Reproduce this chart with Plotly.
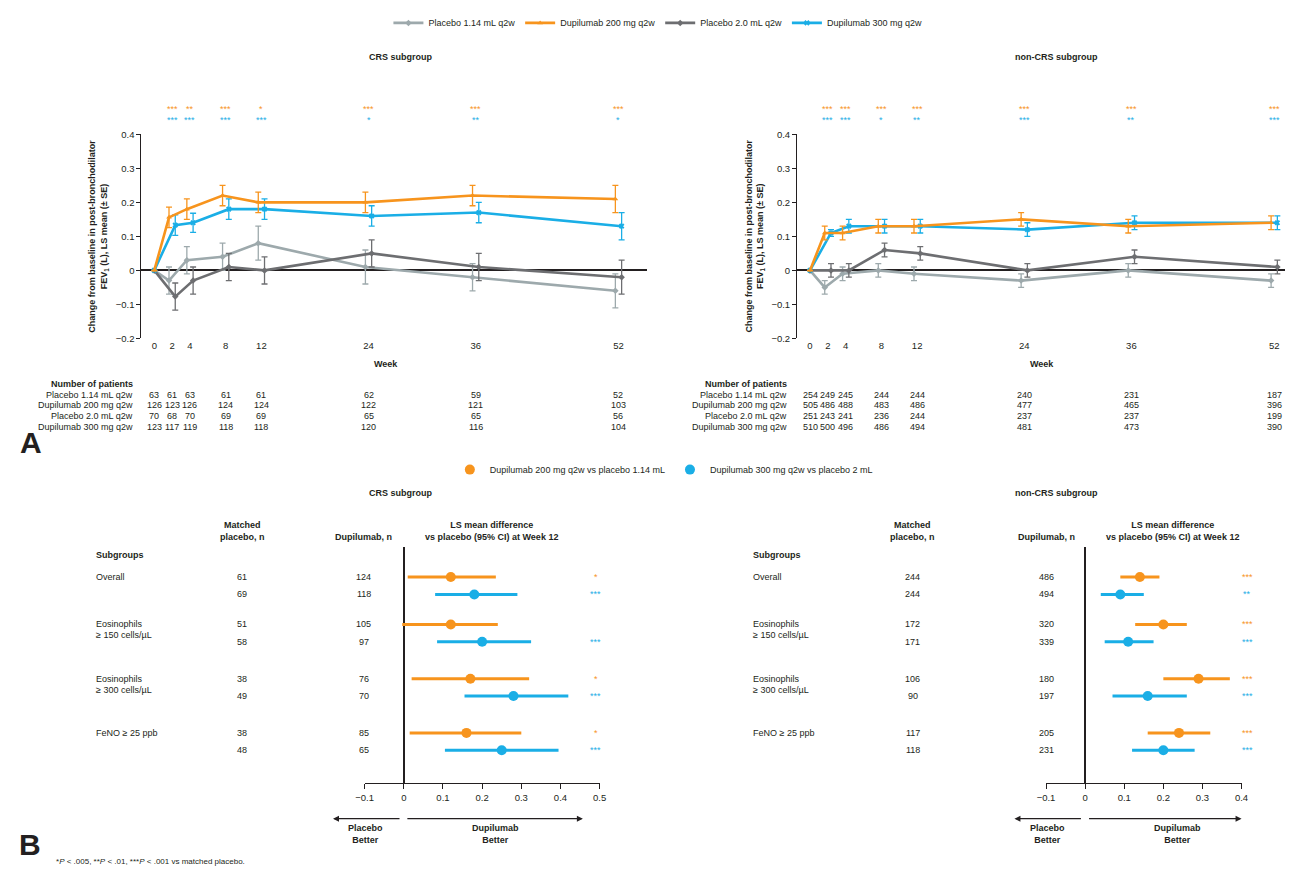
import plotly.graph_objects as go

# The page body has an 8px margin, so the figure is sized to fill the rest of the window
PAGE_W, PAGE_H = 1293, 872
OFF = 8
W, H = PAGE_W - OFF, PAGE_H - OFF
FONT = "Liberation Sans, Arial, sans-serif"
TXT = "#231F20"
ORANGE = "#F7941D"
BLUE = "#1AAEE6"
LGRAY = "#9DA9AC"
DGRAY = "#6D6E71"

# ---------------- Panel A data ----------------
weeks = [0, 2, 4, 8, 12, 24, 36, 52]
series_names = ["Placebo 1.14 mL q2w", "Dupilumab 200 mg q2w", "Placebo 2.0 mL q2w", "Dupilumab 300 mg q2w"]

crs_pbo114 = [0, -0.03, 0.03, 0.04, 0.08, 0.01, -0.02, -0.06]
crs_pbo114_se = [0, 0.04, 0.04, 0.04, 0.05, 0.05, 0.04, 0.05]
crs_dup200 = [0, 0.156, 0.18, 0.22, 0.20, 0.20, 0.22, 0.21]
crs_dup200_se = [0, 0.03, 0.03, 0.03, 0.03, 0.03, 0.03, 0.04]
crs_pbo20 = [0, -0.077, -0.03, 0.01, 0.0, 0.05, 0.01, -0.02]
crs_pbo20_se = [0, 0.04, 0.04, 0.04, 0.04, 0.04, 0.04, 0.05]
crs_dup300 = [0, 0.133, 0.14, 0.18, 0.18, 0.16, 0.17, 0.13]
crs_dup300_se = [0, 0.03, 0.028, 0.03, 0.03, 0.03, 0.03, 0.04]

ncrs_pbo114 = [0, -0.05, -0.01, 0.0, -0.01, -0.03, 0.0, -0.03]
ncrs_pbo114_se = [0, 0.02, 0.02, 0.02, 0.02, 0.02, 0.02, 0.02]
ncrs_dup200 = [0, 0.11, 0.11, 0.13, 0.13, 0.15, 0.13, 0.14]
ncrs_dup200_se = [0, 0.02, 0.02, 0.02, 0.02, 0.02, 0.02, 0.02]
ncrs_pbo20 = [0, 0.0, 0.0, 0.06, 0.05, 0.0, 0.04, 0.01]
ncrs_pbo20_se = [0, 0.02, 0.02, 0.02, 0.02, 0.02, 0.02, 0.02]
ncrs_dup300 = [0, 0.11, 0.13, 0.13, 0.13, 0.12, 0.14, 0.14]
ncrs_dup300_se = [0, 0.01, 0.02, 0.02, 0.02, 0.02, 0.02, 0.02]

crs_sig200 = ["", "***", "**", "***", "*", "***", "***", "***"]
crs_sig300 = ["", "***", "***", "***", "***", "*", "**", "*"]
ncrs_sig200 = ["", "***", "***", "***", "***", "***", "***", "***"]
ncrs_sig300 = ["", "***", "***", "*", "**", "***", "**", "***"]

crs_n_pbo114 = [63, 61, 63, 61, 61, 62, 59, 52]
crs_n_dup200 = [126, 123, 126, 124, 124, 122, 121, 103]
crs_n_pbo20 = [70, 68, 70, 69, 69, 65, 65, 56]
crs_n_dup300 = [123, 117, 119, 118, 118, 120, 116, 104]
ncrs_n_pbo114 = [254, 249, 245, 244, 244, 240, 231, 187]
ncrs_n_dup200 = [505, 486, 488, 483, 486, 477, 465, 396]
ncrs_n_pbo20 = [251, 243, 241, 236, 244, 237, 237, 199]
ncrs_n_dup300 = [510, 500, 496, 486, 494, 481, 473, 390]

# ---------------- Panel B data ----------------
subgroups = [["Overall"], ["Eosinophils", "≥ 150 cells/µL"], ["Eosinophils", "≥ 300 cells/µL"], ["FeNO ≥ 25 ppb"]]
legend_b = ["Dupilumab 200 mg q2w vs placebo 1.14 mL", "Dupilumab 300 mg q2w vs placebo 2 mL"]

crs_plc_n200 = [61, 51, 38, 38]
crs_plc_n300 = [69, 58, 49, 48]
crs_dup_n200 = [124, 105, 76, 85]
crs_dup_n300 = [118, 97, 70, 65]
crs_est200 = [0.12, 0.12, 0.17, 0.16]
crs_lo200 = [0.01, -0.004, 0.02, 0.015]
crs_hi200 = [0.235, 0.24, 0.32, 0.30]
crs_est300 = [0.18, 0.20, 0.28, 0.25]
crs_lo300 = [0.08, 0.085, 0.155, 0.105]
crs_hi300 = [0.29, 0.325, 0.42, 0.395]
crs_fsig200 = ["*", "", "*", "*"]
crs_fsig300 = ["***", "***", "***", "***"]

ncrs_plc_n200 = [244, 172, 106, 117]
ncrs_plc_n300 = [244, 171, 90, 118]
ncrs_dup_n200 = [486, 320, 180, 205]
ncrs_dup_n300 = [494, 339, 197, 231]
ncrs_est200 = [0.14, 0.20, 0.29, 0.24]
ncrs_lo200 = [0.09, 0.128, 0.20, 0.16]
ncrs_hi200 = [0.19, 0.26, 0.37, 0.32]
ncrs_est300 = [0.09, 0.11, 0.16, 0.20]
ncrs_lo300 = [0.04, 0.05, 0.07, 0.12]
ncrs_hi300 = [0.15, 0.175, 0.26, 0.28]
ncrs_fsig200 = ["***", "***", "***", "***"]
ncrs_fsig300 = ["**", "***", "***", "***"]


def X(px):
    return (px - OFF) / W


def Y(py):
    return 1 - (py - OFF) / H


fig = go.Figure()
ann = []


def text(t, x, y, size=9, bold=False, color=TXT, xanchor="center", yanchor="middle",
         xref="paper", yref="paper", angle=0):
    if bold:
        t = "<b>" + t + "</b>"
    ann.append(dict(text=t, x=x, y=y, xref=xref, yref=yref, showarrow=False,
                    font=dict(size=size, color=color, family=FONT),
                    xanchor=xanchor, yanchor=yanchor, textangle=angle))


# ---------------- Panel A ----------------
panels_a = [
    dict(xa="x", ya="y", dom=(134, 646), w0=147, title="CRS subgroup", tx=396,
         data=[(crs_pbo114, crs_pbo114_se), (crs_dup200, crs_dup200_se),
               (crs_pbo20, crs_pbo20_se), (crs_dup300, crs_dup300_se)],
         sig=(crs_sig200, crs_sig300),
         n=[crs_n_pbo114, crs_n_dup200, crs_n_pbo20, crs_n_dup300],
         lab_right=127, ytitle_x=91),
    dict(xa="x2", ya="y2", dom=(798, 1293), w0=811, title="non-CRS subgroup", tx=1061,
         data=[(ncrs_pbo114, ncrs_pbo114_se), (ncrs_dup200, ncrs_dup200_se),
               (ncrs_pbo20, ncrs_pbo20_se), (ncrs_dup300, ncrs_dup300_se)],
         sig=(ncrs_sig200, ncrs_sig300),
         n=[ncrs_n_pbo114, ncrs_n_dup200, ncrs_n_pbo20, ncrs_n_dup300],
         lab_right=790, ytitle_x=756),
]
colors = [LGRAY, ORANGE, DGRAY, BLUE]
symbols = ["diamond", "triangle-up", "diamond", "x"]
offsets = [-0.35, -0.35, 0.35, 0.35]
PXW = 9.04  # pixels per week

for pi, p in enumerate(panels_a):
    for si in [0, 2, 3, 1]:
        vals, se = p["data"][si]
        xs = [w + offsets[si] if w > 0 else w for w in weeks]
        fig.add_trace(go.Scatter(
            x=xs, y=vals, xaxis=p["xa"], yaxis=p["ya"], name=series_names[si],
            mode="lines+markers", line=dict(color=colors[si], width=2.6),
            marker=dict(symbol=symbols[si], size=5, color=colors[si]),
            error_y=dict(type="data", array=se, color=colors[si], thickness=1.3, width=3),
            showlegend=(pi == 0), legend="legend", legendrank=si, cliponaxis=False))
    x0, x1 = p["dom"]
    rng = [(x0 - p["w0"]) / PXW, (x1 - p["w0"]) / PXW]
    key = "xaxis" if p["xa"] == "x" else "xaxis2"
    ykey = "yaxis" if p["ya"] == "y" else "yaxis2"
    fig.layout[key] = dict(domain=[X(x0), X(x1)], range=rng, anchor=p["ya"],
                           tickvals=weeks, ticktext=[str(w) for w in weeks],
                           showline=False, showgrid=False, zeroline=False, ticks="",
                           tickfont=dict(size=9.5, color=TXT, family=FONT))
    fig.layout[ykey] = dict(domain=[Y(336), Y(129)], range=[-0.2, 0.4], anchor=p["xa"],
                            tickvals=[-0.2, -0.1, 0, 0.1, 0.2, 0.3, 0.4],
                            ticktext=["\u22120.2", "\u22120.1", "0", "0.1", "0.2", "0.3", "0.4"],
                            showline=True, linecolor=TXT, linewidth=1.2, ticks="outside",
                            ticklen=4, tickcolor=TXT, showgrid=False,
                            zeroline=True, zerolinecolor=TXT, zerolinewidth=1.5,
                            tickfont=dict(size=9.5, color=TXT, family=FONT))
    text(p["title"], X(p["tx"]), Y(51), size=9, bold=True)
    text("Week", X(p["w0"] + 26 * PXW), Y(362), size=9, bold=True)
    text("Change from baseline in post-bronchodilator<br>FEV<sub>1</sub> (L), LS mean (± SE)",
         X(p["ytitle_x"]), Y(232), size=9, bold=True, angle=-90)
    s200, s300 = p["sig"]
    for wi, w in enumerate(weeks):
        if s200[wi]:
            text(s200[wi], w, Y(103), size=9, color=ORANGE, xref=p["xa"])
        if s300[wi]:
            text(s300[wi], w, Y(114), size=9, color=BLUE, xref=p["xa"])
    text("Number of patients", X(p["lab_right"]), Y(382), size=9, bold=True, xanchor="right")
    row_y = [393, 404, 415, 426]
    for ri in range(4):
        text(series_names[ri], X(p["lab_right"]), Y(row_y[ri]), size=9, xanchor="right")
        for wi, w in enumerate(weeks):
            text(str(p["n"][ri][wi]), w, Y(row_y[ri]), size=9, xref=p["xa"])

# ---------------- Panel B ----------------
ROW = [0, 0.873, 1.873, 2.873]  # row slots (55 px each)
BOFF = 0.32
panels_b = [
    dict(xa="x3", ya="y3", dom=(360, 598), rng=[-0.1, 0.5], title="CRS subgroup", tx=396,
         lab_x=86, plc_x=236, dup_x=359, star_x=594, ls_x=488,
         n=(crs_plc_n200, crs_plc_n300, crs_dup_n200, crs_dup_n300),
         e200=(crs_est200, crs_lo200, crs_hi200), e300=(crs_est300, crs_lo300, crs_hi300),
         sig=(crs_fsig200, crs_fsig300),
         arrows=(328, 396, 404, 581), pb_x=361, db_x=493),
    dict(xa="x4", ya="y4", dom=(1050, 1248), rng=[-0.1, 0.4], title="non-CRS subgroup", tx=1061,
         lab_x=751, plc_x=915, dup_x=1050, star_x=1254, ls_x=1178,
         n=(ncrs_plc_n200, ncrs_plc_n300, ncrs_dup_n200, ncrs_dup_n300),
         e200=(ncrs_est200, ncrs_lo200, ncrs_hi200), e300=(ncrs_est300, ncrs_lo300, ncrs_hi300),
         sig=(ncrs_fsig200, ncrs_fsig300),
         arrows=(1018, 1086, 1094, 1248), pb_x=1051, db_x=1183),
]

for pi, p in enumerate(panels_b):
    for ci, (est, lo, hi) in enumerate([p["e200"], p["e300"]]):
        col = ORANGE if ci == 0 else BLUE
        ys = [r + (BOFF if ci else 0) for r in ROW]
        fig.add_trace(go.Scatter(
            x=est, y=ys, xaxis=p["xa"], yaxis=p["ya"], mode="markers",
            marker=dict(symbol="circle", size=10, color=col),
            error_x=dict(type="data", symmetric=False,
                         array=[h - e for h, e in zip(hi, est)],
                         arrayminus=[e - l for e, l in zip(est, lo)],
                         color=col, thickness=3, width=0),
            showlegend=False, cliponaxis=False))
    key = "xaxis3" if pi == 0 else "xaxis4"
    ykey = "yaxis3" if pi == 0 else "yaxis4"
    d0, d1 = p["dom"]
    ticks = [round(-0.1 + 0.1 * k, 1) for k in range(int(round((p["rng"][1] + 0.1) / 0.1)) + 1)]
    fig.layout[key] = dict(domain=[X(d0), X(d1)], range=p["rng"], anchor=p["ya"],
                           tickvals=ticks,
                           ticktext=[("\u2212" + str(abs(t))) if t < 0 else ("0" if t == 0 else str(t)) for t in ticks],
                           showline=True, linecolor=TXT, linewidth=1.2, ticks="outside",
                           ticklen=5, tickcolor=TXT, showgrid=False,
                           zeroline=True, zerolinecolor=TXT, zerolinewidth=1.5,
                           tickfont=dict(size=9.5, color=TXT, family=FONT))
    fig.layout[ykey] = dict(domain=[Y(787), Y(547)], range=[(787 - 578) / 55, (547 - 578) / 55],
                            anchor=p["xa"], visible=False, showgrid=False, zeroline=False)
    text(p["title"], X(p["tx"]), Y(493), size=9, bold=True)
    text("Matched<br>placebo, n", X(p["plc_x"]), Y(531), size=9, bold=True)
    text("Dupilumab, n", X(p["dup_x"]), Y(537), size=9, bold=True)
    text("LS mean difference<br>vs placebo (95% CI) at Week 12", X(p["ls_x"]), Y(531), size=9, bold=True)
    text("Subgroups", X(p["lab_x"]), Y(556), size=9, bold=True, xanchor="left")
    plc200, plc300, dup200, dup300 = p["n"]
    s200, s300 = p["sig"]
    for k in range(4):
        lines = subgroups[k]
        text(lines[0], X(p["lab_x"]), ROW[k], size=9, xanchor="left", yref=p["ya"])
        if len(lines) > 1:
            text(lines[1], X(p["lab_x"]), ROW[k] + 0.2, size=9, xanchor="left", yref=p["ya"])
        text(str(plc200[k]), X(p["plc_x"]), ROW[k], size=9, yref=p["ya"])
        text(str(plc300[k]), X(p["plc_x"]), ROW[k] + BOFF, size=9, yref=p["ya"])
        text(str(dup200[k]), X(p["dup_x"]), ROW[k], size=9, yref=p["ya"])
        text(str(dup300[k]), X(p["dup_x"]), ROW[k] + BOFF, size=9, yref=p["ya"])
        if s200[k]:
            text(s200[k], X(p["star_x"]), ROW[k], size=9, color=ORANGE, yref=p["ya"])
        if s300[k]:
            text(s300[k], X(p["star_x"]), ROW[k] + BOFF, size=9, color=BLUE, yref=p["ya"])
    lh, lt, rt, rh = p["arrows"]
    for head, tail in [(lh, lt), (rh, rt)]:
        ann.append(dict(x=X(head), y=Y(823), xref="paper", yref="paper", text="",
                        showarrow=True, ax=tail - head, ay=0, axref="pixel", ayref="pixel",
                        arrowhead=2, arrowsize=1, arrowwidth=1.2, arrowcolor=TXT, standoff=0))
    text("Placebo<br>Better", X(p["pb_x"]), Y(839), size=9, bold=True)
    text("Dupilumab<br>Better", X(p["db_x"]), Y(839), size=9, bold=True)

for ci, col in enumerate([ORANGE, BLUE]):
    fig.add_trace(go.Scatter(x=[None], y=[None], xaxis="x3", yaxis="y3", mode="markers",
                             marker=dict(size=10, color=col), name=legend_b[ci],
                             showlegend=True, legend="legend2"))

text("A", X(22), Y(442), size=30, bold=True)
text("B", X(21), Y(849), size=30, bold=True)
text("*<i>P</i> < .005, **<i>P</i> < .01, ***<i>P</i> < .001 vs matched placebo.",
     X(45), Y(866), size=8, xanchor="left")

fig.update_layout(
    width=W, height=H, margin=dict(l=0, r=0, t=0, b=0),
    paper_bgcolor="white", plot_bgcolor="white",
    font=dict(family=FONT, color=TXT),
    annotations=ann,
    legend=dict(orientation="h", x=X(657), y=Y(16), xanchor="center", yanchor="middle",
                font=dict(size=9, color=TXT, family=FONT), itemwidth=30, traceorder="normal",
                bgcolor="rgba(0,0,0,0)"),
    legend2=dict(orientation="h", x=X(663), y=Y(469), xanchor="center", yanchor="middle",
                 font=dict(size=9, color=TXT, family=FONT), itemwidth=30,
                 bgcolor="rgba(0,0,0,0)"),
)

fig.write_html("out.html")
